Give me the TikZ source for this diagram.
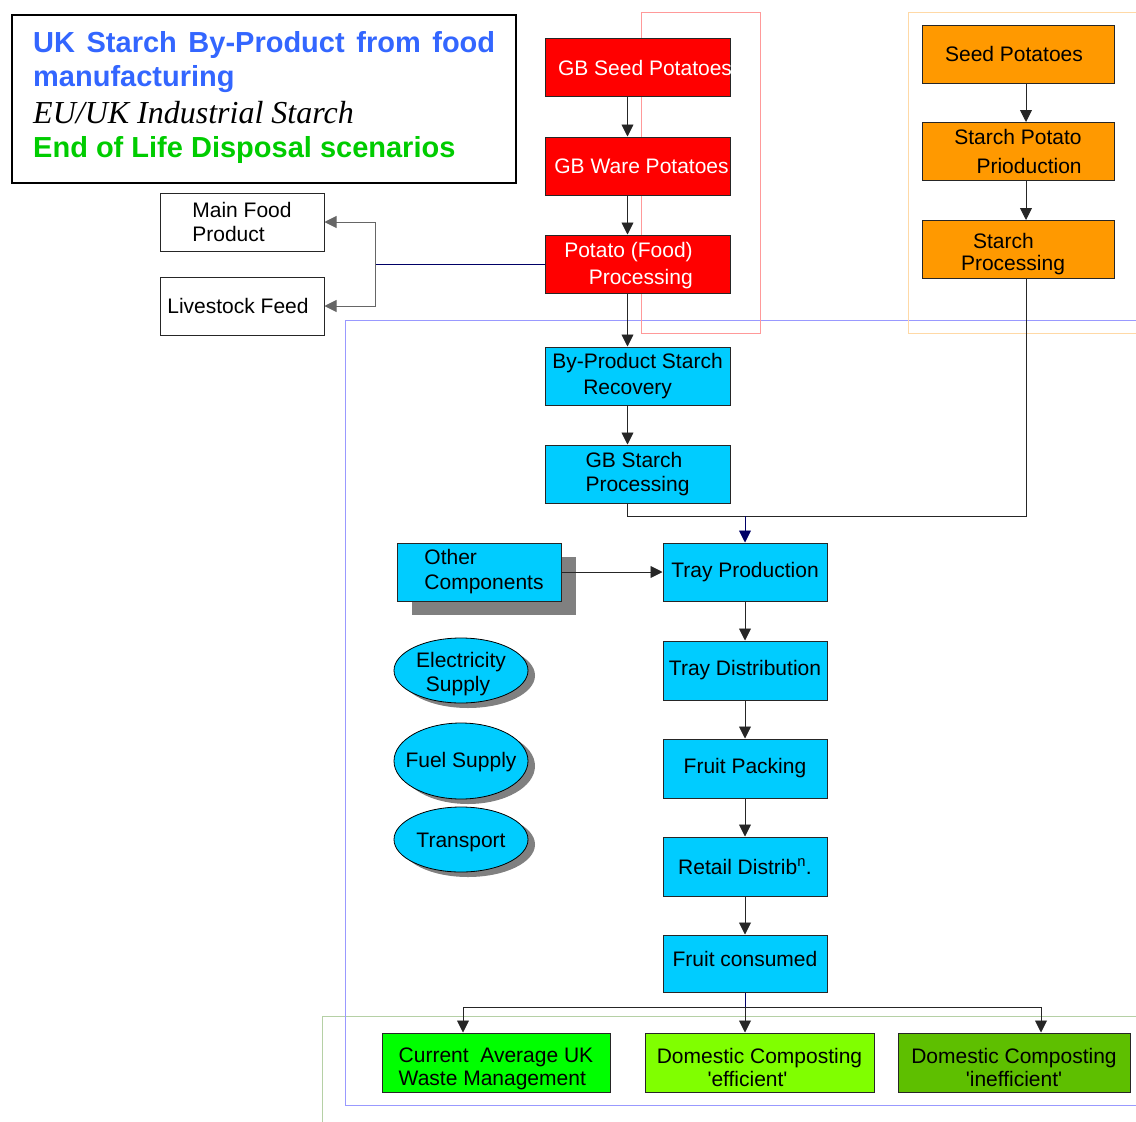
\documentclass[tikz,border=0pt]{standalone}
\usepackage{fontspec}
\setmainfont{Liberation Sans}
\newfontfamily\serifit{Liberation Serif}
\usetikzlibrary{arrows.meta,shapes.geometric,shadows}
\definecolor{titleblue}{HTML}{3366FF}
\definecolor{titlegreen}{HTML}{00CC00}
\definecolor{boxred}{HTML}{FF0000}
\definecolor{boxorange}{HTML}{FF9900}
\definecolor{boxcyan}{HTML}{00CCFF}
\definecolor{gA}{HTML}{00FF00}
\definecolor{gB}{HTML}{80FF00}
\definecolor{gC}{HTML}{5EBF00}
\definecolor{navyline}{HTML}{000066}
\definecolor{shadowgray}{HTML}{808080}
\definecolor{pinkline}{HTML}{FF9999}
\definecolor{orangeline}{HTML}{FFD9A6}
\definecolor{blueline}{HTML}{9999FF}
\definecolor{greenline}{HTML}{B5D0A5}
\newcommand{\lowr}[2]{\raisebox{-#1}[\height][\depth]{#2}}
\newcommand{\highr}[2]{\raisebox{#1}[\height][\depth]{#2}}
\tikzset{
  basebox/.style={draw=black!85, line width=1pt, inner sep=0pt, minimum height=58pt,
    font=\fontsize{21}{25}\selectfont},
  redbox/.style={basebox, fill=boxred, text=white, minimum width=185pt},
  orangebox/.style={basebox, fill=boxorange, minimum width=192pt},
  cyanbox/.style={basebox, fill=boxcyan, minimum width=185pt},
  traybox/.style={basebox, fill=boxcyan, minimum width=164pt},
  whitebox/.style={basebox, fill=white, minimum width=164pt},
  greenbox/.style={basebox, minimum height=59pt, font=\fontsize{21}{23}\selectfont},
  oval/.style={ellipse, draw=black, line width=0.8pt, fill=boxcyan, inner sep=0pt,
    minimum width=134pt, font=\fontsize{21}{24}\selectfont,
    drop shadow={shadow xshift=7pt, shadow yshift=-5pt, fill=shadowgray, opacity=1}},
  conn/.style={draw=black!85, line width=0.9pt, -{Triangle[length=12pt,width=12pt]}},
  plain/.style={draw=black!85, line width=0.9pt},
  container/.style={line width=0.9pt},
}
\begin{document}
\begin{tikzpicture}[x=1pt,y=-1pt]
\useasboundingbox (0,0) rectangle (1136,1122);
% containers
\draw[container, draw=greenline] (322,1016) rectangle (1145,1135);
\draw[container, draw=blueline] (345,320) rectangle (1145,1105);
\draw[container, draw=orangeline] (908,12) rectangle (1145,333);
\draw[container, draw=pinkline] (641,12) rectangle (760,333);
% title box
\node[draw=black, line width=1.6pt, minimum width=504pt, minimum height=168pt, inner sep=0pt] (title) at (264,99) {};
\node[anchor=base west, inner sep=0pt, text=titleblue, font=\fontsize{29}{34}\bfseries] (t1) at (33,52) {\makebox[462pt][s]{UK Starch By-Product from food}};
\node[anchor=base west, inner sep=0pt, text=titleblue, font=\fontsize{29}{34}\bfseries] (t2) at (33,86) {manufacturing};
\node[anchor=base west, inner sep=0pt, font=\fontsize{32}{36}\serifit\itshape] (t3) at (33,123) {EU/UK Industrial Starch};
\node[anchor=base west, inner sep=0pt, text=titlegreen, font=\fontsize{29}{34}\bfseries] (t4) at (33,157) {End of Life Disposal scenarios};
% red chain
\node[redbox] (seed) at (637.5,67.5) {\makebox[0pt]{\hspace*{15pt}GB Seed Potatoes}};
\node[redbox] (ware) at (637.5,166) {\makebox[0pt]{\hspace*{8pt}GB Ware Potatoes}};
\node[redbox, align=right, font=\fontsize{21}{27}\selectfont] (pfp) at (637.5,264) {\lowr{2pt}{Potato (Food)}\hspace*{18pt}\\\lowr{2pt}{Processing}\hspace*{18pt}};
% orange chain
\node[orangebox] (oseed) at (1018,54) {\hspace*{-8pt}Seed Potatoes};
\node[orangebox, align=right, font=\fontsize{21}{29}\selectfont] (spp) at (1018,151.5) {Starch Potato\\Prioduction};
\node[orangebox, align=left, font=\fontsize{21}{22}\selectfont] (sproc) at (1018,249.5) {\hspace*{12pt}\lowr{5pt}{Starch}\\\lowr{5pt}{Processing}\hspace*{10pt}};
% white boxes
\node[whitebox, align=left, font=\fontsize{21}{24}\selectfont] (mainf) at (242,222) {Main Food\\Product};
\node[whitebox] (live) at (242,306) {\hspace*{-8pt}Livestock Feed};
% cyan upper
\node[cyanbox, align=left, font=\fontsize{21}{26}\selectfont] (bpsr) at (637.5,376) {By-Product Starch\\\hspace*{31pt}Recovery};
\node[cyanbox, align=left, font=\fontsize{21}{24}\selectfont] (gbsp) at (637.5,474) {GB Starch\\Processing};
% other components and ovals
\node[traybox, align=left, drop shadow={shadow xshift=15pt, shadow yshift=-14pt, fill=shadowgray, opacity=1}] (other) at (479,572) {\hspace*{10pt}Other\\\hspace*{10pt}Components};
\node[oval, minimum height=65pt, align=center] (elec) at (461,670.5) {\makebox[0pt]{\lowr{4pt}{Electricity}}\\\makebox[0pt]{\hspace*{-6pt}\lowr{4pt}{Supply}}};
\node[oval, minimum height=76pt] (fuel) at (461,761) {\makebox[0pt]{\lowr{1pt}{Fuel Supply}}};
\node[oval, minimum height=65pt] (trans) at (461,839.5) {\makebox[0pt]{\lowr{3pt}{Transport}}};
% tray chain
\node[traybox] (tprod) at (745,572) {Tray Production};
\node[traybox, minimum height=59pt] (tdist) at (745,670.5) {Tray Distribution};
\node[traybox, minimum height=59pt] (fpack) at (745,768.5) {Fruit Packing};
\node[traybox, minimum height=59pt] (retail) at (745,866.5) {Retail Distrib\textsuperscript{n}.};
\node[traybox, minimum height=57pt] (fcons) at (745,963.5) {\highr{5pt}{Fruit consumed}};
% green boxes
\node[greenbox, fill=gA, minimum width=228pt, align=left] (gw) at (496,1062.5) {\lowr{6pt}{Current\ \ Average UK}\\\lowr{6pt}{Waste Management}};
\node[greenbox, fill=gB, minimum width=229pt, align=center] (gef) at (759.5,1062.5) {\lowr{5pt}{Domestic Composting}\\\lowr{5pt}{\textquotesingle efficient\textquotesingle}\hspace*{24pt}};
\node[greenbox, fill=gC, minimum width=232pt, align=center] (gin) at (1014,1062.5) {\lowr{5pt}{Domestic Composting}\\\lowr{5pt}{\textquotesingle inefficient\textquotesingle}};
% connectors: red chain
\draw[conn] ([xshift=-10pt]seed.south) -- ([xshift=-10pt]ware.north);
\draw[conn] ([xshift=-10pt]ware.south) -- ([xshift=-10pt]pfp.north);
\draw[conn] ([xshift=-10pt]pfp.south) -- ([xshift=-10pt]bpsr.north);
\draw[conn] ([xshift=-10pt]bpsr.south) -- ([xshift=-10pt]gbsp.north);
% orange chain
\draw[conn] ([xshift=8pt]oseed.south) -- ([xshift=8pt]spp.north);
\draw[conn] ([xshift=8pt]spp.south) -- ([xshift=8pt]sproc.north);
% by-products
\coordinate (sp) at (375,264);
\draw[draw=navyline, line width=0.9pt] (pfp.west) -- (sp);
\draw[conn, draw=black!60] (sp) |- (mainf.east);
\draw[conn, draw=black!60] (sp) |- (live.east);
% starch to tray
\coordinate (j1) at (745,516);
\draw[plain] ([xshift=-10pt]gbsp.south) |- (j1);
\draw[plain] ([xshift=8pt]sproc.south) |- (j1);
\draw[conn, draw=navyline] (j1) -- (tprod.north);
\draw[conn] (other.east) -- (tprod.west);
% tray chain
\draw[conn] (tprod) -- (tdist);
\draw[conn] (tdist) -- (fpack);
\draw[conn] (fpack) -- (retail);
\draw[conn] (retail) -- (fcons);
% disposal
\coordinate (j2) at (745,1007);
\draw[draw=navyline, line width=0.9pt] (fcons.south) -- (j2);
\draw[conn] (j2) -| ([xshift=-33pt]gw.north);
\draw[conn] (j2) -- ([xshift=-14.5pt]gef.north);
\draw[conn] (j2) -| ([xshift=27pt]gin.north);
\end{tikzpicture}
\end{document}
